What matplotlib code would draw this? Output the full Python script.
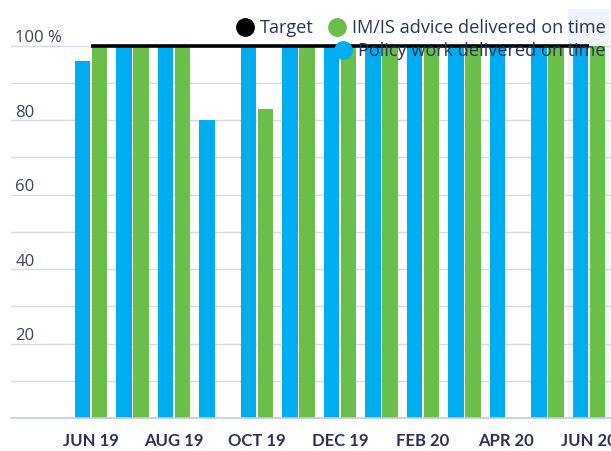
import matplotlib
matplotlib.use('Agg')
import matplotlib.pyplot as plt
import matplotlib.transforms as mtransforms
from matplotlib.lines import Line2D
import numpy as np

months = ['JUN 19', 'JUL 19', 'AUG 19', 'SEP 19', 'OCT 19', 'NOV 19', 'DEC 19',
          'JAN 20', 'FEB 20', 'MAR 20', 'APR 20', 'MAY 20', 'JUN 20']
policy_on_time = [96, 100, 100, 80, 100, 100, 100, 100, 100, 100, 100, 100, 100]
advice_on_time = [100, 100, 100, np.nan, 83, 100, 100, 100, 100, 100, np.nan, 100, 100]
target = [100] * len(months)

ytick_values = [20, 40, 60, 80, 100]
ytick_labels = ['20', '40', '60', '80', '100 %']

blue = '#00aeef'
green = '#6abf4b'
navy = '#2b3354'
grid_col = '#d6dbe6'

fig = plt.figure(figsize=(6.11, 4.51), dpi=100)
ax = fig.add_axes([11 / 611, 33 / 451, 619.5 / 611, 409.4 / 451])

x = np.arange(len(months))
w = 0.365
off = 0.205

ax.axvspan(11.5, 12.5, color='#f0f3fa', zorder=0, lw=0)
ax.bar(x - off, policy_on_time, width=w, color=blue, zorder=2, lw=0)
ax.bar(x + off, advice_on_time, width=w, color=green, zorder=2, lw=0)
ax.plot(x, target, color='black', lw=2.6, zorder=3, solid_capstyle='butt')

ax.set_xlim(-1.928, 13.0)
ax.set_ylim(0, 110)

for s in ['top', 'right', 'left']:
    ax.spines[s].set_visible(False)
ax.spines['bottom'].set_color('#c3cadb')
ax.spines['bottom'].set_linewidth(1.2)

ax.set_yticks(ytick_values)
ax.set_yticklabels(ytick_labels)
ax.set_yticks(np.arange(10, 101, 10), minor=True)
ax.grid(axis='y', which='both', color=grid_col, lw=1.0, zorder=1)
ax.set_axisbelow(True)
ax.tick_params(axis='y', which='both', length=0, pad=-3, labelsize=12, labelcolor='#3a4260')
for lab in ax.get_yticklabels():
    lab.set_horizontalalignment('left')
    lab.set_verticalalignment('baseline')
    lab.set_fontfamily('Open Sans')
    lab.set_transform(lab.get_transform() + mtransforms.ScaledTranslation(0, 2.5 / 72, fig.dpi_scale_trans))

ax.set_xticks(x[::2])
ax.set_xticklabels(months[::2])
ax.tick_params(axis='x', length=0, pad=11, labelsize=12, labelcolor=navy)
for lab in ax.get_xticklabels():
    lab.set_fontfamily('Lato')
    lab.set_fontweight('bold')

h_target = Line2D([], [], marker='o', ls='', color='black', markersize=12.5)
h_advice = Line2D([], [], marker='o', ls='', color=green, markersize=12.5)
h_policy = Line2D([], [], marker='o', ls='', color=blue, markersize=12.5)

leg_kw = dict(frameon=False, borderpad=0, borderaxespad=0, handlelength=0.7,
              handletextpad=0.5, columnspacing=0.9, labelcolor=navy,
              prop={'family': 'Open Sans', 'size': 13.05}, bbox_transform=fig.transFigure)
leg1 = ax.legend([h_target, h_advice], ['Target', 'IM/IS advice delivered on time'],
                 ncol=2, loc='center right', bbox_to_anchor=(606 / 611, 423 / 451), **leg_kw)
ax.add_artist(leg1)
ax.legend([h_policy], ['Policy work delivered on time'],
          loc='center right', bbox_to_anchor=(606 / 611, 400 / 451), **leg_kw)

fig.savefig('out.png', dpi=100)
